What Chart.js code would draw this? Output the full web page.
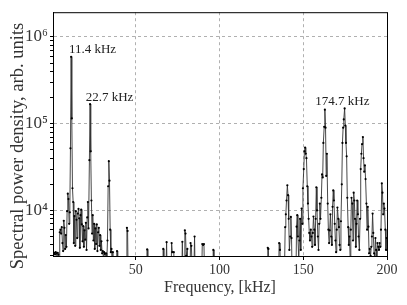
<!DOCTYPE html>
<html>
<head>
<meta charset="utf-8">
<script src="https://cdn.jsdelivr.net/npm/chart.js@4.4.1/dist/chart.umd.min.js"></script>
<style>
  body { margin: 0; background: #fff; }
  canvas { display: block; }
</style>
</head>
<body>
<canvas id="psdChart" width="407" height="305"></canvas>
<script>
// ========================================
// SPECTRAL POWER DENSITY
// ========================================

// frequency, kHz
const freq = [
    0.6, 1.0, 1.4, 1.8, 2.2, 2.6, 3.0, 3.4, 3.8, 4.2, 4.6, 5.0, 5.4, 5.8, 6.2, 6.6, 7.0, 7.4, 7.8, 8.2,
    8.6, 9.0, 9.4, 9.8, 10.2, 10.6, 11.0, 11.4, 11.8, 12.2, 12.6, 13.0, 13.4, 13.8, 14.2, 14.6, 15.0, 15.4, 15.8, 16.2,
    16.6, 17.0, 17.4, 17.8, 18.2, 18.6, 19.0, 19.4, 19.8, 20.2, 20.6, 21.0, 21.4, 21.8, 22.3, 22.7, 23.1, 23.5, 23.9, 24.3,
    24.7, 25.1, 25.5, 25.9, 26.3, 26.7, 27.1, 27.5, 27.9, 28.3, 28.7, 29.1, 29.5, 29.9, 30.3, 30.7, 31.1, 31.5, 31.9, 32.3,
    32.7, 33.1, 33.5, 33.9, 34.3, 34.7, 35.1, 35.5, 35.9, 36.3, 36.7,
    38.4, 38.8, 39.2,
    44.3, 44.7, 45.1, 45.5,
    56.4, 56.8, 57.2,
    66.0, 66.4, 66.8, 68.0, 68.4, 68.8,
    71.0, 71.4, 71.8, 72.7, 73.1,
    77.4, 77.8, 78.2, 78.9, 79.3, 79.7, 80.1, 80.8, 81.2,
    82.3, 82.7, 83.2, 83.7, 84.7, 85.1, 85.5,
    89.3, 89.7, 90.2, 90.7, 91.1,
    95.9, 96.3, 96.7,
    128.4, 128.8, 129.2, 129.6,
    135.2, 135.6, 136.1, 136.5,
    138.8, 139.2, 139.6, 140.0, 140.5, 140.9, 141.3, 141.7, 142.2, 142.6, 143.0, 143.4,
    145.6, 146.0, 146.4, 146.8, 147.3, 147.7, 148.1, 148.5, 149.0, 149.4, 149.8, 150.3, 150.7, 151.1, 151.5, 151.9,
    152.4, 152.8, 153.2, 153.6, 154.0, 154.5, 154.9, 155.3, 155.7, 156.1, 156.6, 157.0, 157.4, 157.8, 158.2, 158.7,
    159.1, 159.5, 159.9, 160.3, 160.8, 161.2, 161.6, 162.0, 162.5, 162.9, 163.3, 163.7, 164.1, 164.6, 165.0, 165.4,
    165.8, 166.2, 166.7, 167.1, 167.5, 167.9, 168.3, 168.8, 169.2, 169.6, 170.0, 170.4, 170.9, 171.3, 171.7, 172.1,
    172.5, 173.0, 173.4, 173.8, 174.2, 174.7, 175.1, 175.5, 175.9, 176.3, 176.8, 177.2, 177.6, 178.0, 178.4, 178.8,
    179.3, 179.7, 180.1, 180.5, 180.9, 181.4, 181.8, 182.2, 182.6, 183.0, 183.5, 183.9, 184.3, 184.7, 185.1, 185.6,
    186.0, 186.4, 186.8, 187.2, 187.7, 188.1, 188.5, 188.9, 189.3, 189.7, 190.2, 190.6, 191.0, 191.4, 191.8, 192.3,
    192.7, 193.1, 193.5, 193.9, 194.3, 194.8, 195.2, 195.6, 196.0, 196.4, 196.9, 197.3, 197.7, 198.1, 198.5, 199.0,
    199.4, 199.8
];

// spectral power density, arb. units
const psd = [
    3300, 3150, 3250, 3100, 3300, 3200, 2800, 3250, 3100, 2600, 5600, 6000, 5400, 6400, 4200, 3400, 7600, 6300, 3600, 5200,
    3800, 9800, 15600, 13500, 7000, 9500, 52000, 590000, 115000, 18000, 12500, 4200, 8600, 3900, 9800, 7800, 4800, 9200, 10400, 8100,
    3700, 8800, 10200, 6900, 4400, 6600, 3800, 5900, 4600, 7200, 3500, 8300, 12500, 6200, 38000, 168000, 48000, 13000, 5400, 8800,
    4500, 7000, 3600, 6200, 4100, 6900, 3400, 5600, 6300, 3900, 5200, 3500, 4400, 3200, 3400, 2800, 3300, 3150, 2700, 3200,
    2600, 4500, 19000, 37000, 22000, 6000, 3300, 3600, 2500, 3300, 1500,
    1500, 3400, 1500,
    1500, 6300, 5800, 1500,
    1500, 3550, 1500,
    1500, 3600, 2000, 2000, 4300, 1500,
    1500, 4200, 3300, 3300, 1500,
    1500, 4350, 2000, 2000, 5900, 5400, 3000, 3600, 1500,
    1500, 4200, 3900, 2000, 2000, 5000, 1500,
    1500, 4100, 4000, 4100, 1500,
    1500, 3500, 1500,
    1500, 3700, 3600, 1500,
    1500, 4200, 3500, 1500,
    2000, 6400, 9000, 13000, 19500, 15000, 8000, 3500, 5000, 8400, 4800, 1500,
    1500, 6500, 8800, 5000, 2800, 4500, 8000, 3500, 10500, 7000, 18000, 30000, 48000, 53000, 45000, 40000,
    19000, 12000, 8000, 5500, 4500, 6000, 5000, 3800, 5500, 8500, 6000, 4000, 8000, 18500, 10000, 5000,
    3500, 7000, 12000, 8000, 14000, 26000, 24000, 60000, 92000, 145000, 90000, 25000, 45000, 12000, 6000, 4200,
    5900, 9000, 5000, 4000, 11000, 17000, 13000, 7000, 4500, 3300, 6000, 10800, 8000, 6400, 4000, 3500,
    7500, 20000, 60000, 90000, 112000, 150000, 95000, 60000, 42000, 14000, 6400, 4000, 5000, 2800, 6000, 14000,
    12000, 4500, 16000, 13000, 8000, 3800, 7000, 13000, 9000, 5000, 3500, 8000, 30000, 45000, 58000, 70000,
    40000, 28000, 33000, 23000, 12000, 6000, 11000, 6500, 3200, 3600, 3000, 3800, 5000, 9200, 5500, 3200,
    2800, 4800, 3500, 2500, 4200, 3800, 3500, 4200, 3800, 6000, 20500, 16000, 9000, 12000, 10500, 6000,
    3500, 4800
];

const xTicks = [50, 100, 150, 200];
const yTicks = [
    3000, 4000, 5000, 6000, 7000, 8000, 9000,
    10000, 20000, 30000, 40000, 50000, 60000, 70000, 80000, 90000,
    100000, 200000, 300000, 400000, 500000, 600000, 700000, 800000, 900000,
    1000000
];
const peakLabels = ['11.4 kHz', '22.7 kHz', '174.7 kHz'];
const yTitle = 'Spectral power density, arb. units';

const serif = "'Liberation Serif', 'DejaVu Serif', serif";
const sup = { '4': '\u2074', '5': '\u2075', '6': '\u2076' };

function isDecade(v) {
    const e = Math.log10(v);
    return Math.abs(e - Math.round(e)) < 1e-9;
}

// posições dos rótulos dos picos (em unidades de dados)
const labelAnchors = [
    { x: 10.1, y: 7.1e5 },
    { x: 20.1, y: 1.98e5 },
    { x: 157.2, y: 1.81e5 }
];

const framePlugin = {
    id: 'frame',
    afterDraw(chart) {
        const { ctx, chartArea, scales } = chart;
        ctx.save();
        ctx.strokeStyle = '#000';
        ctx.lineWidth = 1;
        ctx.strokeRect(chartArea.left + 0.5, chartArea.top + 0.5,
            chartArea.right - chartArea.left, chartArea.bottom - chartArea.top);

        // rótulos dos picos
        ctx.fillStyle = '#222';
        ctx.font = '13px ' + serif;
        ctx.textAlign = 'left';
        ctx.textBaseline = 'middle';
        peakLabels.forEach((txt, i) => {
            const a = labelAnchors[i];
            ctx.fillText(txt, scales.x.getPixelForValue(a.x), scales.y.getPixelForValue(a.y));
        });

        // título do eixo y
        ctx.translate(18, 146);
        ctx.rotate(-Math.PI / 2);
        ctx.font = '18.5px ' + serif;
        ctx.fillStyle = '#333';
        ctx.textAlign = 'center';
        ctx.fillText(yTitle, 0, 0);
        ctx.restore();
    }
};

const points = freq.map((f, i) => ({ x: f, y: psd[i] }));

new Chart(document.getElementById('psdChart'), {
    type: 'line',
    data: {
        datasets: [{
            data: points,
            borderColor: '#333',
            borderWidth: 0.9,
            pointRadius: 1.1,
            pointBackgroundColor: '#000',
            pointBorderWidth: 0,
            tension: 0
        }]
    },
    options: {
        responsive: false,
        animation: false,
        layout: { padding: { top: 10, right: 20, left: 0, bottom: 0 } },
        plugins: {
            legend: { display: false },
            tooltip: { enabled: false }
        },
        scales: {
            x: {
                type: 'linear',
                min: 0.57,
                max: 200,
                afterBuildTicks: scale => { scale.ticks = xTicks.map(v => ({ value: v })); },
                afterFit: scale => { scale.height = 49; },
                ticks: {
                    color: '#333',
                    font: { family: serif, size: 14 },
                    padding: 2,
                    maxRotation: 0,
                    callback: v => String(v)
                },
                grid: {
                    color: '#b0b0b0',
                    tickColor: '#000',
                    tickLength: 4,
                    tickBorderDash: []
                },
                border: { display: true, color: '#000', dash: [3, 3] },
                title: {
                    display: true,
                    text: 'Frequency, [kHz]',
                    color: '#333',
                    font: { family: serif, size: 16 },
                    padding: { top: 0, bottom: 8 }
                }
            },
            y: {
                type: 'logarithmic',
                min: 2980,
                max: 1.93e6,
                afterBuildTicks: scale => { scale.ticks = yTicks.map(v => ({ value: v })); },
                afterFit: scale => { scale.width = 53; },
                ticks: {
                    color: '#333',
                    font: { family: serif, size: 17 },
                    padding: 2,
                    autoSkip: false,
                    callback: v => isDecade(v) ? '10' + sup[String(Math.round(Math.log10(v)))] : ''
                },
                grid: {
                    color: c => (c.tick && isDecade(c.tick.value)) ? '#b0b0b0' : 'rgba(0,0,0,0)',
                    tickColor: '#000',
                    tickLength: 3,
                    tickBorderDash: []
                },
                border: { display: true, color: '#000', dash: [3, 3] },
                title: { display: false }
            }
        }
    },
    plugins: [framePlugin]
});
</script>
</body>
</html>
